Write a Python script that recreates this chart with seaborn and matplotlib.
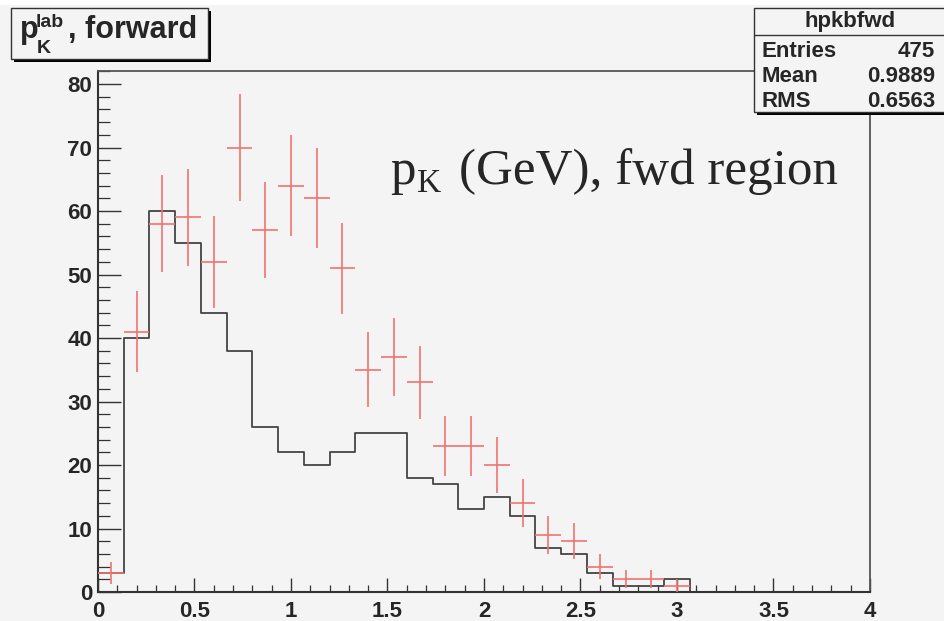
import numpy as np
import pandas as pd
import matplotlib
matplotlib.use("Agg")
import matplotlib.pyplot as plt
import seaborn as sns
from matplotlib.patches import Rectangle
from matplotlib.lines import Line2D
from matplotlib.ticker import MultipleLocator

# ---------------- data ----------------
x_min, x_max, n_bins = 0.0, 4.0, 30
mc_counts = [3, 40, 60, 55, 44, 38, 26, 22, 20, 22, 25, 25, 18, 17, 13,
             15, 12, 7, 6, 3, 1, 1, 2, 0, 0, 0, 0, 0, 0, 0]
data_counts = [3, 41, 58, 59, 52, 70, 57, 64, 62, 51, 35, 37, 33, 23, 23,
               20, 14, 9, 8, 4, 2, 2, 1, 0, 0, 0, 0, 0, 0, 0]
x_ticks = [0, 0.5, 1, 1.5, 2, 2.5, 3, 3.5, 4]
x_tick_labels = ["0", "0.5", "1", "1.5", "2", "2.5", "3", "3.5", "4"]
y_ticks = [0, 10, 20, 30, 40, 50, 60, 70, 80]
y_tick_labels = ["0", "10", "20", "30", "40", "50", "60", "70", "80"]
hist_name = "hpkbfwd"
stats = [("Entries", "475"), ("Mean", "0.9889"), ("RMS", "0.6563")]

edges = np.linspace(x_min, x_max, n_bins + 1)
centers = 0.5 * (edges[:-1] + edges[1:])
bw = edges[1] - edges[0]
df = pd.DataFrame({"p": centers, "mc": np.array(mc_counts, dtype=float),
                   "data": np.array(data_counts, dtype=float)})

W, H = 945, 621
BG = "#f4f4f4"
SANS = "Liberation Sans"
SERIF = "Liberation Serif"
PT = 0.72  # points per pixel at dpi 100

def fx(px):
    return px / W

def fy(py):
    return 1 - py / H

sns.set_style("ticks")
plt.rcParams["font.family"] = [SANS, "DejaVu Sans"]

fig = plt.figure(figsize=(W / 100, H / 100), dpi=100, facecolor=BG)
fig.add_artist(Rectangle((0, fy(5)), 1, 1 - fy(5), transform=fig.transFigure,
                         facecolor="white", edgecolor="none", zorder=-5))

ax_l, ax_r, ax_t, ax_b = 98, 870, 70.7, 592
ax = fig.add_axes([fx(ax_l), fy(ax_b), fx(ax_r) - fx(ax_l), fy(ax_t) - fy(ax_b)])
ax.set_facecolor(BG)

# black histogram
sns.histplot(data=df, x="p", weights="mc", bins=n_bins, binrange=(x_min, x_max),
             element="step", fill=False, color="#444444", linewidth=1.3, ax=ax)

# red data points with errors
dd = df[df["data"] > 0]
ax.errorbar(dd["p"], dd["data"], xerr=bw / 2, yerr=np.sqrt(dd["data"]), fmt="none",
            ecolor="#f07373", elinewidth=1.2, capsize=0, zorder=3)

ax.set_xlim(x_min, x_max)
ax.set_ylim(0, 82.1)
ax.set_xlabel("")
ax.set_ylabel("")
ax.set_xticks(x_ticks)
ax.set_xticklabels(x_tick_labels, fontsize=16, fontweight="bold", family=SANS)
ax.set_yticks(y_ticks)
ax.set_yticklabels(y_tick_labels, fontsize=16, fontweight="bold", family=SANS)
ax.xaxis.set_minor_locator(MultipleLocator(0.1))
ax.yaxis.set_minor_locator(MultipleLocator(2))
ax.tick_params(axis="x", which="major", direction="in", length=14 * PT, width=1.0,
               color="#333333", pad=6.5)
ax.tick_params(axis="x", which="minor", direction="in", length=7 * PT, width=0.9,
               color="#333333")
ax.tick_params(axis="y", which="major", direction="in", length=23 * PT, width=1.0,
               color="#333333", pad=4.3)
ax.tick_params(axis="y", which="minor", direction="in", length=12 * PT, width=0.9,
               color="#333333")
for s in ["left", "bottom"]:
    ax.spines[s].set_color("#333333")
    ax.spines[s].set_linewidth(1.5)
for s in ["top", "right"]:
    ax.spines[s].set_visible(True)
    ax.spines[s].set_color("#555555")
    ax.spines[s].set_linewidth(1.3)

# ---------------- boxes ----------------
def box(x0, y0, x1, y1, sh=3, lw=1.0):
    fig.add_artist(Rectangle((fx(x0 + sh), fy(y1 + sh)), fx(x1) - fx(x0), fy(y0) - fy(y1),
                             transform=fig.transFigure, facecolor="black",
                             edgecolor="none", zorder=5))
    fig.add_artist(Rectangle((fx(x0), fy(y1)), fx(x1) - fx(x0), fy(y0) - fy(y1),
                             transform=fig.transFigure, facecolor=BG,
                             edgecolor="#333333", linewidth=lw, zorder=6))

box(11, 8, 208, 59)
fig.text(fx(20), fy(38), "p", fontsize=22, fontweight="bold", family=SANS,
         va="baseline", ha="left", zorder=7)
fig.text(fx(36), fy(27), "lab", fontsize=14, fontweight="bold", family=SANS,
         va="baseline", ha="left", zorder=7)
fig.text(fx(37), fy(53), "K", fontsize=14, fontweight="bold", family=SANS,
         va="baseline", ha="left", zorder=7)
fig.text(fx(68), fy(38), ", forward", fontsize=22, fontweight="bold", family=SANS,
         va="baseline", ha="left", zorder=7)

box(754, 8, 952, 112, sh=3)
fig.add_artist(Line2D([fx(754), fx(945)], [fy(35), fy(35)], transform=fig.transFigure,
                      color="#333333", linewidth=1.0, zorder=7))
fig.text(fx(850), fy(27), hist_name, fontsize=16, fontweight="bold", family=SANS,
         va="baseline", ha="center", zorder=7)
for i, (k, v) in enumerate(stats):
    yb = 57 + i * 25
    fig.text(fx(762), fy(yb), k, fontsize=16, fontweight="bold", family=SANS,
             va="baseline", ha="left", zorder=7)
    fig.text(fx(935), fy(yb), v, fontsize=16, fontweight="bold", family=SANS,
             va="baseline", ha="right", zorder=7)

# ---------------- annotation ----------------
fig.text(fx(390), fy(184), "p", fontsize=36.5, family=SERIF, va="baseline", ha="left")
fig.text(fx(417), fy(192), "K", fontsize=24, family=SERIF, va="baseline", ha="left")
fig.text(fx(459), fy(184), "(GeV), fwd region", fontsize=36.7, family=SERIF,
         va="baseline", ha="left")

fig.savefig("out.png", dpi=100, facecolor=BG)
